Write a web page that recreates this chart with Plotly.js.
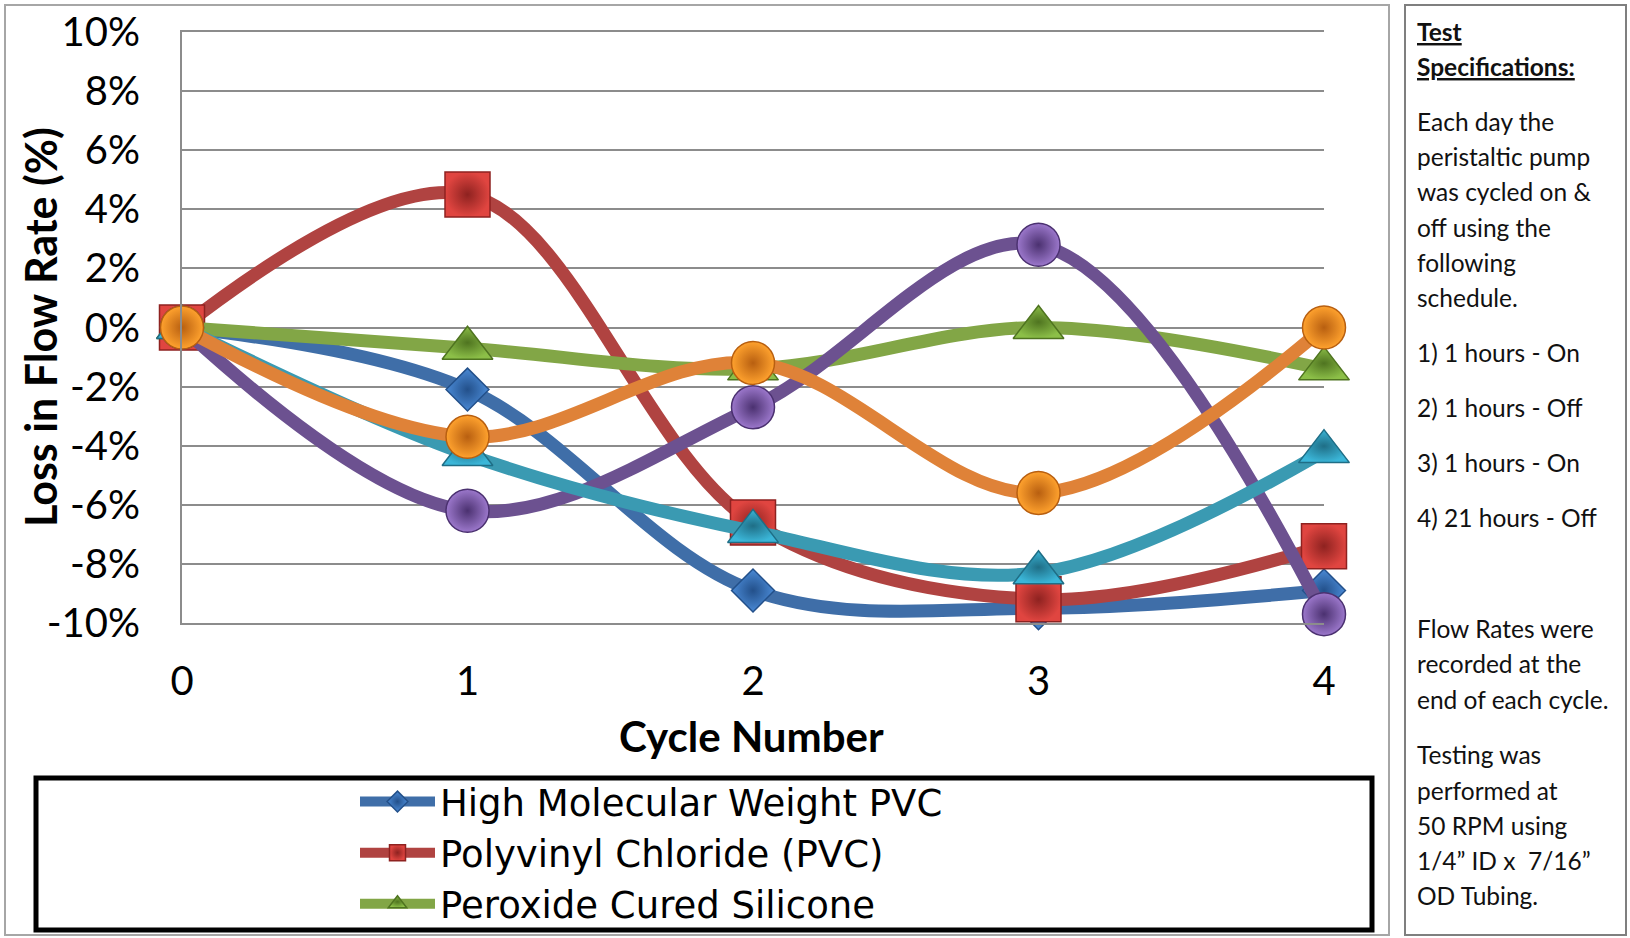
<!DOCTYPE html>
<html>
<head>
<meta charset="utf-8">
<script src="https://cdn.plot.ly/plotly-3.0.1.min.js"></script>
<style>
html,body{margin:0;padding:0;background:#fff;}
#chart{width:1630px;height:938px;}
</style>
</head>
<body>
<div id="chart"></div>
<script>
// ---- data ----
const cycles = [0, 1, 2, 3, 4];
const seriesNames = ["High Molecular Weight PVC", "Polyvinyl Chloride (PVC)", "Peroxide Cured Silicone", "Series 4", "Series 5", "Series 6"];
const hmwPVC = [0, -2.1, -8.9, -9.5, -8.9];
const pvc = [0, 4.5, -6.6, -9.2, -7.4];
const peroxideSilicone = [0, -0.7, -1.4, 0.0, -1.4];
const series4 = [0, -6.2, -2.7, 2.8, -9.7];
const series5 = [0, -4.3, -6.9, -8.3, -4.2];
const series6 = [0, -3.7, -1.2, -5.6, 0.0];
const yTickVals = [-10, -8, -6, -4, -2, 0, 2, 4, 6, 8, 10];
const yTickText = ["-10%", "-8%", "-6%", "-4%", "-2%", "0%", "2%", "4%", "6%", "8%", "10%"];
const xTickVals = [0, 1, 2, 3, 4];
const xTickText = ["0", "1", "2", "3", "4"];
const specLines = [
  "<b><u>Test</u></b>", "<b><u>Specifications:</u></b>",
  "Each day the", "peristaltic pump", "was cycled on &", "off using the", "following", "schedule.",
  "1) 1 hours - On", "2) 1 hours - Off", "3) 1 hours - On", "4) 21 hours - Off",
  "Flow Rates were", "recorded at the", "end of each cycle.",
  "Testing was", "performed at", "50 RPM using", "1/4\u201D ID x  7/16\u201D", "OD Tubing."
];

// ---- layout helpers (pixel -> paper) ----
const PL = 182, PR = 1324, PT = 32, PB = 623;
const X = px => (px - PL) / (PR - PL);
const Y = py => (PB - py) / (PB - PT);
const specY = [31, 66, 121, 156, 191, 227, 262, 297, 352, 407, 462, 517, 628, 663, 699, 754, 790, 825, 860, 895];

const FONT = "Lato, 'Open Sans', sans-serif";

function mk(name, y, lineColor, fill, grad, symbol, size, show) {
  return {
    type: 'scatter', mode: 'lines+markers', name: name, x: cycles, y: y,
    showlegend: show, cliponaxis: false,
    line: {color: lineColor, width: 13, shape: 'spline', smoothing: 1},
    marker: {symbol: symbol, size: size, color: fill,
             gradient: {type: 'radial', color: grad},
             line: {color: grad, width: 1.5}},
    hoverinfo: 'x+y+name'
  };
}

const traces = [
  mk(seriesNames[0], hmwPVC, '#3F6EA8', '#4A8AD6', '#23508A', 'diamond', 33, true),
  mk(seriesNames[1], pvc, '#B04341', '#E04540', '#8E2220', 'square', 45, true),
  mk(seriesNames[2], peroxideSilicone, '#82A646', '#8CBF48', '#4F7420', 'triangle-up', 44, true),
  mk(seriesNames[3], series4, '#6C5190', '#9C78CC', '#4B3170', 'circle', 43, false),
  mk(seriesNames[4], series5, '#3A9AB2', '#3BB6D8', '#1F6E86', 'triangle-up', 44, false),
  mk(seriesNames[5], series6, '#DF8238', '#FFA22E', '#B85F10', 'circle', 43, false)
];

const annotations = specLines.map((t, i) => ({
  xref: 'paper', yref: 'paper', x: X(1415), y: Y(specY[i]), xanchor: 'left', yanchor: 'middle',
  text: t, showarrow: false, font: {family: FONT, size: 24.5, color: '#111'}
}));
annotations.push({
  xref: 'paper', yref: 'paper', x: X(40), y: Y(327), xanchor: 'center', yanchor: 'middle',
  text: '<b>Loss in Flow Rate (%)</b>', textangle: -90, showarrow: false,
  font: {family: FONT, size: 43, color: '#000'}
});
annotations.push({
  xref: 'paper', yref: 'paper', x: X(751), y: Y(736), xanchor: 'center', yanchor: 'middle',
  text: '<b>Cycle Number</b>', showarrow: false,
  font: {family: FONT, size: 42, color: '#000'}
});

const shapes = [
  {type: 'rect', xref: 'paper', yref: 'paper', x0: X(5), x1: X(1389), y0: Y(935), y1: Y(5),
   line: {color: '#A6A6A6', width: 2}, layer: 'below'},
  {type: 'rect', xref: 'paper', yref: 'paper', x0: X(1405), x1: X(1626), y0: Y(935), y1: Y(5),
   line: {color: '#7F7F7F', width: 2}, layer: 'below'},
  {type: 'rect', xref: 'paper', yref: 'paper', x0: X(36), x1: X(1372), y0: Y(930), y1: Y(778),
   line: {color: '#000', width: 5}, layer: 'below'}
];

const layout = {
  width: 1630, height: 938,
  margin: {l: PL, r: 1630 - PR, t: PT, b: 938 - PB, pad: 0, autoexpand: false},
  paper_bgcolor: '#fff', plot_bgcolor: '#fff',
  font: {family: FONT, color: '#000'},
  xaxis: {range: [0, 4], tickvals: xTickVals, ticktext: xTickText, showgrid: false, zeroline: false,
          showline: true, mirror: true, linecolor: '#8C8C8C', linewidth: 2, ticks: '', ticklabelstandoff: 22,
          tickfont: {family: FONT, size: 40, color: '#000'}, fixedrange: true, automargin: false},
  yaxis: {range: [-10, 10], tickvals: yTickVals, ticktext: yTickText, showgrid: true, gridcolor: '#8C8C8C',
          gridwidth: 2, zeroline: false, showline: true, linecolor: '#8C8C8C', linewidth: 2, ticks: '',
          ticklabelstandoff: 32, tickfont: {family: FONT, size: 40, color: '#000'}, fixedrange: true,
          automargin: false},
  showlegend: true,
  legend: {x: X(355), y: Y(771), xanchor: 'left', yanchor: 'top', bgcolor: 'rgba(0,0,0,0)', borderwidth: 0,
           font: {family: "'DejaVu Sans', 'Open Sans', sans-serif", size: 37, color: '#000'}, itemwidth: 75, tracegroupgap: 0},
  annotations: annotations,
  shapes: shapes
};

Plotly.newPlot('chart', traces, layout, {displayModeBar: false, staticPlot: false});
</script>
</body>
</html>
